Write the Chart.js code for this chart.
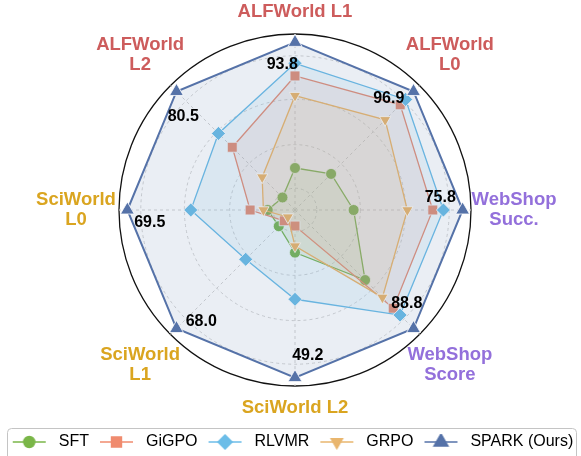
<!DOCTYPE html>
<html>
<head>
<meta charset="utf-8">
<script src="https://cdn.jsdelivr.net/npm/chart.js@4.4.1/dist/chart.umd.min.js"></script>
<style>
  html, body { margin: 0; padding: 0; background: #fff; }
</style>
</head>
<body>
<canvas id="radarChart" width="581" height="456"></canvas>
<script>
// axes clockwise from the top
const axes = [['ALFWorld L1'], ['ALFWorld', 'L0'], ['WebShop', 'Succ.'], ['WebShop', 'Score'],
              ['SciWorld L2'], ['SciWorld', 'L1'], ['SciWorld', 'L0'], ['ALFWorld', 'L2']];
const axisColors = ['#cd5c5c', '#cd5c5c', '#9370db', '#9370db', '#daa520', '#daa520', '#daa520', '#cd5c5c'];
const methods = ['SFT', 'GiGPO', 'RLVMR', 'GRPO', 'SPARK (Ours)'];

// scores per axis (SPARK values are printed on it)
const sft   = [23.5, 29.5, 26.5, 52.5, 12.5, 9.3, 11.3, 8.5];
const gigpo = [75.0, 86.0, 62.3, 73.6, 4.7, 6.2, 18.6, 42.6];
const rlvmr = [82.1, 90.4, 67.1, 78.7, 26.2, 28.3, 43.2, 52.0];
const grpo  = [64.0, 73.7, 50.8, 65.5, 10.6, 4.1, 13.1, 22.3];
const spark = [93.8, 96.9, 75.8, 88.8, 49.2, 68.0, 69.5, 80.5];
const ringTicks = [0.13, 0.39, 0.66, 0.92];

const seriesValues = [sft, gigpo, rlvmr, grpo, spark];
const styles = [
  { color: '#7ab648', point: 'circle', radius: 5.5, rot: 0, width: 1.3 },
  { color: '#f08b6e', point: 'rect', radius: 7, rot: 0, width: 1.3 },
  { color: '#6cbde8', point: 'rectRot', radius: 7, rot: 0, width: 1.3 },
  { color: '#e9b66e', point: 'triangle', radius: 6.5, rot: 180, width: 1.3 },
  { color: '#5572a8', point: 'triangle', radius: 8, rot: 0, width: 2 }
];

// each axis is scaled by its best score
function norm(arr) {
  return arr.map((v, i) => v / Math.max(...seriesValues.map(s => s[i])));
}

function rgba(hex, a) {
  const n = parseInt(hex.slice(1), 16);
  return 'rgba(' + (n >> 16) + ',' + ((n >> 8) & 255) + ',' + (n & 255) + ',' + a + ')';
}

function legendIcon(k) {
  const st = styles[k];
  const c = document.createElement('canvas');
  c.width = 43; c.height = 16;
  const g = c.getContext('2d');
  g.strokeStyle = st.color;
  g.lineWidth = 1.5;
  g.beginPath(); g.moveTo(5, 8); g.lineTo(38, 8); g.stroke();
  g.fillStyle = st.color;
  g.strokeStyle = st.color;
  Chart.helpers.drawPoint(g, { pointStyle: st.point, rotation: st.rot, radius: st.radius, borderWidth: 0.5 }, 21.5, 8);
  return c;
}

Chart.defaults.font.family = '"Liberation Sans", Arial, sans-serif';

const textPlugin = {
  id: 'radarText',
  afterDraw(chart) {
    const s = chart.scales.r;
    const ctx = chart.ctx;
    ctx.save();
    ctx.textAlign = 'center';
    ctx.textBaseline = 'middle';

    ctx.font = 'bold 18.5px "Liberation Sans", Arial, sans-serif';
    axes.forEach((lines, i) => {
      const p = s.getPointPosition(i, s.drawingArea + (lines.length > 1 ? 43 : 22));
      ctx.fillStyle = axisColors[i];
      lines.forEach((t, j) => ctx.fillText(t, p.x, p.y + (j - (lines.length - 1) / 2) * 19.5));
    });

    ctx.font = 'bold 16px "Liberation Sans", Arial, sans-serif';
    ctx.fillStyle = '#000';
    const d = s.getDistanceFromCenterForValue(0.87);
    spark.forEach((v, i) => {
      const a = s.getIndexAngle(i) - Math.PI / 2 - 5 * Math.PI / 180;
      ctx.fillText(v.toFixed(1), s.xCenter + Math.cos(a) * d, s.yCenter + Math.sin(a) * d);
    });

    const lg = chart.legend;
    ctx.strokeStyle = '#c4c4c4';
    ctx.lineWidth = 1;
    ctx.beginPath();
    ctx.roundRect(7.5, lg.top + 0.5, 569, 40, 4);
    ctx.stroke();
    ctx.restore();
  }
};

const radarChart = new Chart(document.getElementById('radarChart'), {
  type: 'radar',
  data: {
    labels: axes,
    datasets: methods.map((m, k) => ({
      label: m,
      data: norm(seriesValues[k]),
      borderColor: styles[k].color,
      backgroundColor: rgba(styles[k].color, 0.12),
      borderWidth: styles[k].width,
      fill: true,
      pointStyle: styles[k].point,
      pointRadius: styles[k].radius,
      pointRotation: styles[k].rot,
      pointBackgroundColor: styles[k].color,
      pointBorderColor: '#ffffff',
      pointBorderWidth: 0.8,
      order: 5 - k
    }))
  },
  options: {
    responsive: false,
    animation: false,
    layout: { padding: { bottom: -4 } },
    scales: {
      r: {
        min: 0,
        max: 1.05,
        afterBuildTicks: (scale) => {
          scale.ticks = [0, ...ringTicks, 1.05].map(v => ({ value: v }));
        },
        afterFit: (scale) => {
          scale.xCenter = 295;
          scale.yCenter = 210;
          scale.drawingArea = 176;
        },
        ticks: { display: false },
        pointLabels: { display: false },
        grid: {
          circular: true,
          color: (c) => (c.tick && c.tick.value === 1.05 ? '#111111' : '#d2d2d2'),
          lineWidth: (c) => (c.tick && c.tick.value === 1.05 ? 1.3 : 1)
        },
        border: {
          dash: (c) => (c.tick && c.tick.value === 1.05 ? [] : [3, 3])
        },
        angleLines: { color: '#d2d2d2', lineWidth: 1, borderDash: [3, 3] }
      }
    },
    plugins: {
      tooltip: { enabled: false },
      legend: {
        position: 'bottom',
        labels: {
          usePointStyle: true,
          pointStyleWidth: 43,
          padding: 6,
          color: '#1a1a1a',
          font: { size: 16 },
          generateLabels: (chart) => chart.data.datasets.map((ds, k) => ({
            text: ds.label,
            pointStyle: legendIcon(k),
            fillStyle: 'transparent',
            strokeStyle: 'transparent',
            lineWidth: 0,
            hidden: false,
            datasetIndex: k
          }))
        }
      }
    }
  },
  plugins: [textPlugin]
});
</script>
</body>
</html>
